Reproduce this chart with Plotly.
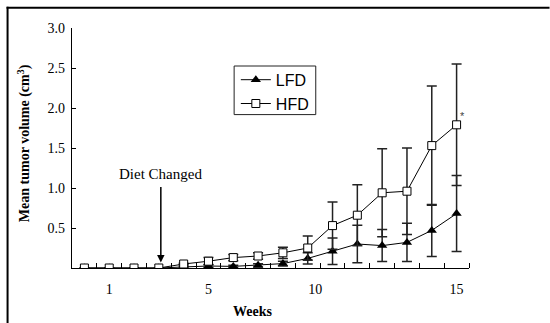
import plotly.graph_objects as go

weeks = list(range(16))
lfd = [0, 0, 0, 0, 0.013, 0.025, 0.02, 0.034, 0.055, 0.12, 0.21, 0.30, 0.28, 0.32, 0.47, 0.68]
lfd_err = [0, 0, 0, 0, 0.01, 0.02, 0.015, 0.02, 0.03, 0.07, 0.165, 0.235, 0.20, 0.24, 0.325, 0.475]
hfd = [0, 0, 0, 0, 0.05, 0.085, 0.13, 0.15, 0.19, 0.25, 0.53, 0.66, 0.94, 0.96, 1.53, 1.79]
hfd_err = [0, 0, 0, 0, 0.01, 0.045, 0.04, 0.04, 0.07, 0.15, 0.295, 0.38, 0.55, 0.54, 0.745, 0.76]

xtick_vals = [1, 5, 9.3, 15]
xtick_text = ["1", "5", "10", "15"]
ytick_vals = [0.5, 1.0, 1.5, 2.0, 2.5, 3.0]
ytick_text = ["0.5", "1.0", "1.5", "2.0", "2.5", "3.0"]

SERIF = "Liberation Serif"
SANS = "Liberation Sans"

fig = go.Figure()
fig.add_trace(go.Scatter(
    x=weeks, y=lfd, name="LFD", mode="lines+markers",
    line=dict(color="black", width=1),
    marker=dict(symbol="triangle-up", size=9, color="black"),
    error_y=dict(type="data", array=lfd_err, visible=True, color="#222", thickness=1.5, width=5),
))
fig.add_trace(go.Scatter(
    x=weeks, y=hfd, name="HFD", mode="lines+markers",
    line=dict(color="black", width=1),
    marker=dict(symbol="square", size=8, color="white", line=dict(color="black", width=1)),
    error_y=dict(type="data", array=hfd_err, visible=True, color="#222", thickness=1.5, width=5),
))

W, H = 550, 323
L, R, T, B = 72, 80.6, 27.7, 55.3
pw = W - L - R
ph = H - T - B

def px2paperx(px):
    return (px - L) / pw

def py2papery(py):
    return (H - B - py) / ph

fig.update_layout(
    width=W, height=H,
    margin=dict(l=L, r=R, t=T, b=B, autoexpand=False),
    paper_bgcolor="white", plot_bgcolor="white",
    hovermode=False,
    showlegend=True,
    legend=dict(
        x=px2paperx(236), y=py2papery(62.5), xanchor="left", yanchor="top",
        borderwidth=0, bgcolor="rgba(0,0,0,0)",
        font=dict(family=SANS, size=16, color="black"),
        itemwidth=30, tracegroupgap=0,
    ),
    xaxis=dict(
        range=[-0.5, 15.5], showgrid=False, zeroline=False,
        showline=True, linecolor="black", linewidth=1.3,
        tickmode="array", tickvals=xtick_vals, ticktext=xtick_text, ticks="",
        ticklabelstandoff=8,
        tickfont=dict(family=SERIF, size=14, color="black"),
        minor=dict(tickvals=[i + 0.5 for i in range(16)], ticks="inside", ticklen=5,
                   tickcolor="black", tickwidth=1, showgrid=False),
    ),
    yaxis=dict(
        range=[0, 3], showgrid=False, zeroline=False,
        showline=True, linecolor="black", linewidth=1.3,
        tickmode="array", tickvals=ytick_vals, ticktext=ytick_text,
        ticks="inside", ticklen=4, tickcolor="black", tickwidth=1,
        ticklabelstandoff=3,
        tickfont=dict(family=SERIF, size=14, color="black"),
    ),
    shapes=[
        dict(type="line", xref="paper", yref="paper",
             x0=px2paperx(7.5), x1=px2paperx(7.5), y0=py2papery(323), y1=py2papery(6.5),
             line=dict(color="black", width=2), layer="above"),
        dict(type="line", xref="paper", yref="paper",
             x0=px2paperx(6.5), x1=px2paperx(550), y0=py2papery(7.5), y1=py2papery(7.5),
             line=dict(color="black", width=2), layer="above"),
        dict(type="rect", xref="paper", yref="paper",
             x0=px2paperx(234.3), x1=px2paperx(316), y0=py2papery(114.3), y1=py2papery(65.7),
             line=dict(color="#222", width=1), fillcolor="white", layer="below"),
    ],
    annotations=[
        dict(text="<b>Mean tumor volume (cm<sup>3</sup>)</b>", xref="paper", yref="paper",
             x=px2paperx(24.3), y=py2papery(142.5), textangle=-90, showarrow=False,
             xanchor="center", yanchor="middle",
             font=dict(family=SERIF, size=14, color="black"), ),
        dict(text="<b>Weeks</b>", xref="paper", yref="paper",
             x=px2paperx(253), y=py2papery(310.7), showarrow=False,
             xanchor="center", yanchor="middle",
             font=dict(family=SERIF, size=14, color="black")),
        dict(text="Diet Changed", xref="x", yref="y", x=3.08, y=0.07,
             ax=3.08, ay=1.18, axref="x", ayref="y", showarrow=True,
             arrowhead=2, arrowsize=1, arrowwidth=1.5, arrowcolor="black",
             startstandoff=4,
             font=dict(family=SERIF, size=15, color="black")),
        dict(text="*", xref="x", yref="y", x=15.25, y=1.90, showarrow=False,
             font=dict(family=SANS, size=11, color="#444")),
    ],
)

fig.write_html("out.html", config={"displayModeBar": False, "staticPlot": True},
               post_script="document.body.style.margin='0px';document.body.style.overflow='hidden';")
